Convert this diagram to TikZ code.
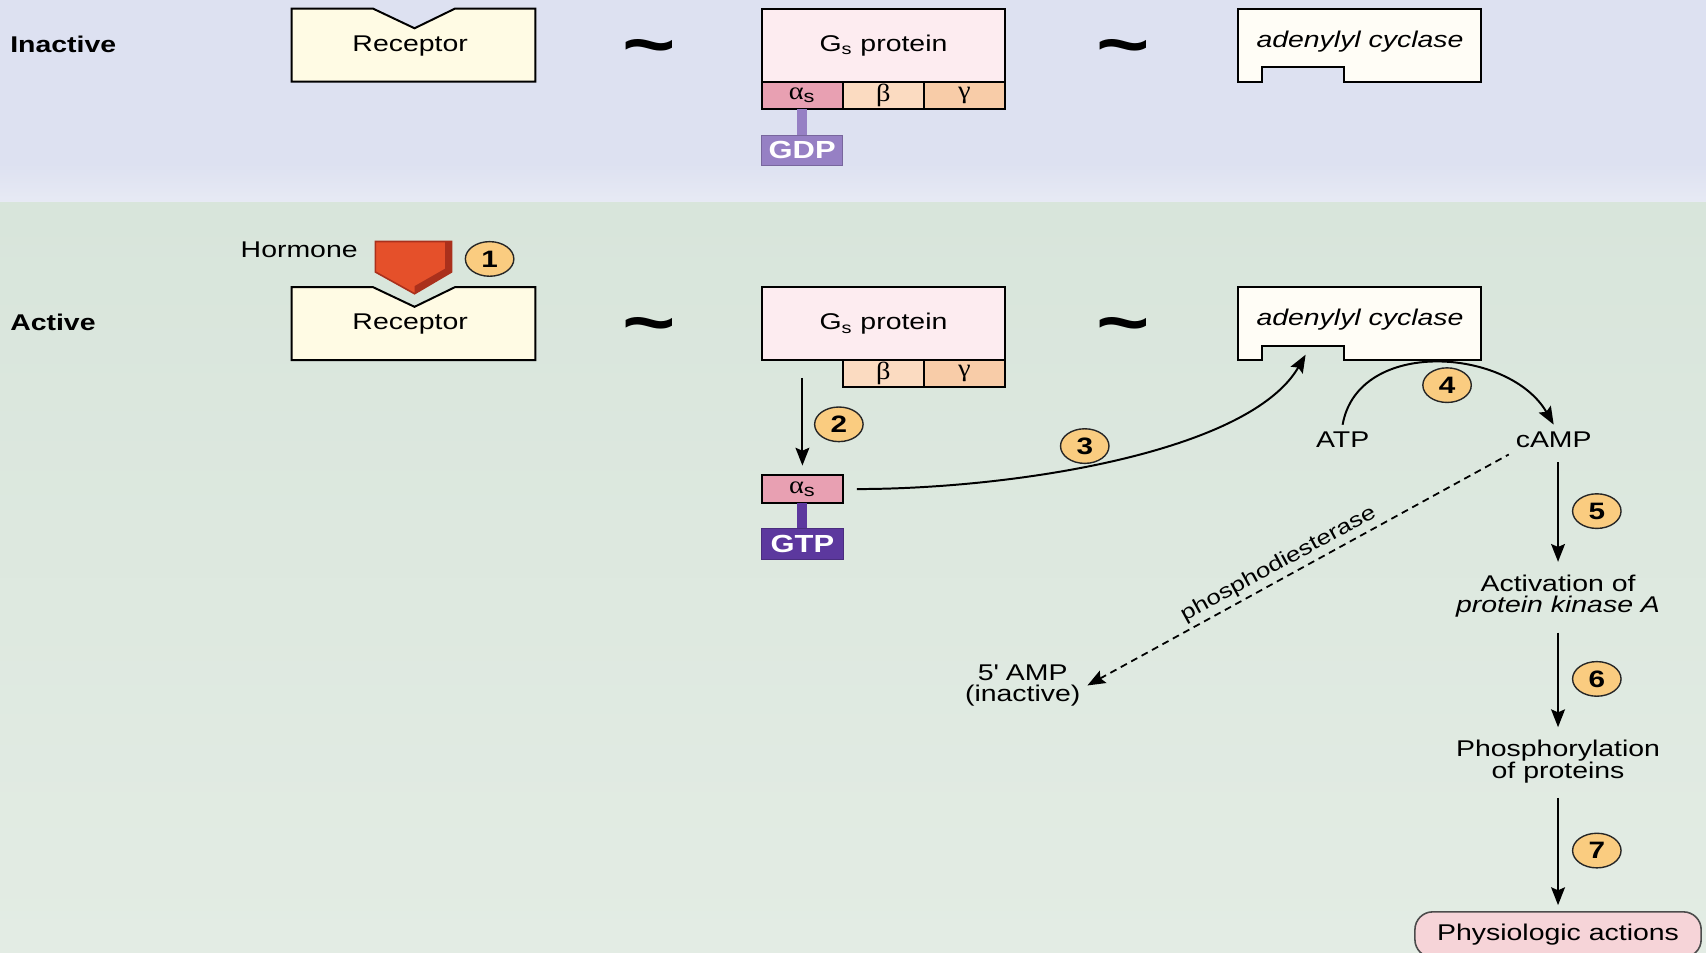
\documentclass[tikz,border=0pt]{standalone}
\usepackage{fontspec}
\setmainfont{Liberation Sans}[FakeStretch=1.25]
\newfontfamily\grk{Liberation Serif}[FakeStretch=1.15]
\usetikzlibrary{positioning,arrows.meta,shapes.geometric}

\definecolor{bgtop}{RGB}{221,225,241}
\definecolor{bgfade}{RGB}{231,234,244}
\definecolor{bgbot}{RGB}{216,229,219}
\definecolor{bgbotlight}{RGB}{227,236,228}
\definecolor{recfill}{RGB}{255,251,228}
\definecolor{gsfill}{RGB}{253,236,240}
\definecolor{alphafill}{RGB}{232,160,178}
\definecolor{betafill}{RGB}{251,219,193}
\definecolor{gammafill}{RGB}{248,204,168}
\definecolor{acfill}{RGB}{255,253,246}
\definecolor{gdpfill}{RGB}{150,128,196}
\definecolor{gtpfill}{RGB}{92,56,158}
\definecolor{hormfill}{RGB}{229,80,42}
\definecolor{hormedge}{RGB}{170,48,28}
\definecolor{numfill}{RGB}{250,204,128}
\definecolor{physfill}{RGB}{246,212,216}

\begin{document}
\begin{tikzpicture}[x=0.55pt, y=0.55pt, font=\fontsize{11.5}{11}\selectfont,
    >={Stealth[length=9pt,width=7pt,inset=1.5pt]},
    box/.style={draw=black, line width=1pt, outer sep=0pt},
    subunit/.style={box, minimum width=41pt, minimum height=13.75pt, inner sep=0pt, font=\fontsize{12.5}{12}\selectfont},
    nucleotide/.style={draw=#1!80!black, fill=#1, line width=0.5pt, text=white, minimum width=41.25pt, minimum height=15.4pt, inner sep=0pt, font=\bfseries\fontsize{12.5}{12}\selectfont},
    num/.style={ellipse, draw=black!85, fill=numfill, line width=0.7pt, minimum width=24.5pt, minimum height=17.5pt, inner sep=0pt, font=\bfseries\fontsize{12}{12}\selectfont},
    flow/.style={->, line width=1pt}]
    \tikzset{tilde/.style={font=\bfseries\fontsize{37}{37}\selectfont, inner sep=0pt},
        enzyme/.style={font=\fontsize{11.5}{11}\selectfont\itshape}}

    \useasboundingbox (0,0) rectangle (1568,-875);
    \clip (0,0) rectangle (1568,-875);
    % inactive band, then active band
    \fill[bgtop] (0,0) rectangle (1568,-150);
    \shade[top color=bgtop, bottom color=bgfade] (0,-150) rectangle (1568,-186);
    \shade[top color=bgbot, bottom color=bgbotlight] (0,-186) rectangle (1568,-875);

    \node[anchor=west, font=\bfseries\fontsize{11.5}{11}\selectfont] (inactive) at (3,-41) {Inactive};
    \node[anchor=west, font=\bfseries\fontsize{11.5}{11}\selectfont] (active) at (3,-296) {Active};

    % receptor and adenylyl cyclase, both rows
    \foreach \dy/\r/\c in {0/reci/aci, -256/reca/aca} {
        \draw[box, fill=recfill] (268,-8+\dy) -- (343,-8+\dy) -- (381,-26+\dy) -- (418,-8+\dy)
            -- (492,-8+\dy) -- (492,-75+\dy) -- (268,-75+\dy) -- cycle;
        \node (\r) at (377,-42+\dy) {Receptor};
        \draw[box, fill=acfill] (1138,-8+\dy) -- (1361,-8+\dy) -- (1361,-75+\dy) -- (1235,-75+\dy)
            -- (1235,-62+\dy) -- (1160,-62+\dy) -- (1160,-75+\dy) -- (1138,-75+\dy) -- cycle;
        \node[enzyme] (\c) at (1250,-38+\dy) {adenylyl cyclase};
    }
    \foreach \y in {-41,-297}
        \foreach \x in {597,1032}
            \node[tilde] (tl\x\y) at (\x,\y-9) {\textasciitilde};

    % inactive G protein
    \node[box, fill=gsfill, minimum width=123.2pt, minimum height=36.85pt, inner sep=0pt, anchor=north west] (gsi) at (700,-8) {G\textsubscript{s} protein\hspace{6pt}};
    \node[subunit, fill=alphafill, anchor=north west] (asi) at (gsi.south west) {{\grk α}\textsubscript{s}};
    \node[subunit, fill=betafill, right=0pt of asi] (bi) {\grk β};
    \node[subunit, fill=gammafill, right=0pt of bi] (gi) {\grk γ};
    \node[nucleotide=gdpfill, below=13pt of asi] (gdp) {GDP};
    \draw[gdpfill, line width=5pt] (asi.south) -- (gdp.north);

    % hormone binds
    \node (hormone) at (275,-230) {Hormone};
    \filldraw[fill=hormfill, draw=hormedge, line width=0.8pt] (345,-222) -- (415,-222) -- (415,-250) -- (381,-270) -- (345,-250) -- cycle;
    \fill[hormedge] (409,-222) -- (415,-222) -- (415,-250) -- (381,-270) -- (381,-263) -- (409,-247) -- cycle;
    \node[num] (n1) at (450,-238) {1};

    % active G protein
    \node[box, fill=gsfill, minimum width=123.2pt, minimum height=36.85pt, inner sep=0pt, anchor=north west] (gsa) at (700,-264) {G\textsubscript{s} protein\hspace{6pt}};
    \node[subunit, fill=betafill, anchor=north west] (ba) at ([xshift=41pt]gsa.south west) {\grk β};
    \node[subunit, fill=gammafill, right=0pt of ba] (ga) {\grk γ};
    \node[subunit, fill=alphafill, anchor=north] (asa) at (737.5,-437) {{\grk α}\textsubscript{s}};
    \node[nucleotide=gtpfill, below=13pt of asa] (gtp) {GTP};
    \draw[gtpfill, line width=5pt] (asa.south) -- (gtp.north);

    \draw[flow, shorten <=9pt, shorten >=5pt] (asa.north |- gsa.south) -- (asa.north);
    \node[num] (n2) at (771,-390) {2};

    \coordinate (site) at (1200,-326);
    \draw[flow, shorten <=7pt] (asa.east) to[out=0, in=-120, out looseness=0.9, in looseness=0.6] (site);
    \node[num] (n3) at (997,-410) {3};

    \node (atp) at (1234,-404) {ATP};
    \node (camp) at (1428,-404) {cAMP};
    \draw[flow] (atp.north) to[out=80, in=120, looseness=1.08] (camp.north);
    \node[num] (n4) at (1330,-354) {4};

    \node[align=center] (amp) at (940,-630) {5\textquotesingle{} AMP\\(inactive)};
    \draw[<-, line width=0.9pt, dash pattern=on 3.5pt off 2.5pt] (amp.east) -- node[sloped, above, pos=0.47, inner sep=2pt, font=\fontsize{10.5}{10}\selectfont] (pde) {phosphodiesterase} (camp.south west);

    % cascade down to the response
    \node[align=center] (pka) at (1432,-548) {Activation of\\\textit{protein kinase A}};
    \node[align=center] (phos) at (1432,-700) {Phosphorylation\\of proteins};
    \node[draw=black!70, fill=physfill, line width=0.8pt, rounded corners=9pt, minimum width=144.7pt, minimum height=23pt] (phys) at (1432,-859) {Physiologic actions};

    \foreach \a/\b/\n in {camp/pka/5, pka/phos/6, phos/phys/7}
        \draw[flow, shorten <=4pt, shorten >=3pt] (\b.north |- \a.south) -- (\b.north) node[num, midway, right=7pt] (n\n) {\n};
\end{tikzpicture}
\end{document}
